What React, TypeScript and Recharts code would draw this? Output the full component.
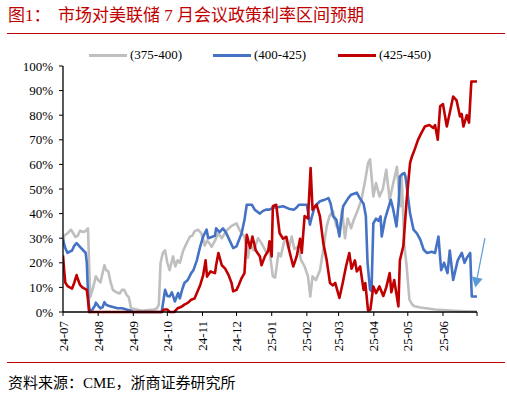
import React from 'react';
import { LineChart, Line, XAxis, YAxis, ReferenceLine } from 'recharts';

// Days since 2024-07-01 -> probability (%)
const SERIES_375_400: [number, number][] = [
  [0,27],[1,31],[4,32],[7,33.5],[9,32],[11,30.5],[13,31],[15,33],[18,32.5],[20,33],[22,34],[23,20],[24,6],[26,9],[29,14.5],[31,13],[33,12],[35,16],[36.5,19],[38,17],[40,16.5],[42,12],[44,9],[47,8],[50,7.5],[52,9],[54,9],[56,7],[58,6],[60,1.5],[65,1],[70,0.5],[75,0.8],[80,1],[83,1.5],[84.5,3],[86,20],[88,24],[90,25],[92,20],[94,17],[97,22.6],[99,18.5],[101,21],[103,20],[106,25],[109,28],[112,30.7],[114,31],[116,32.8],[119,33.5],[122,32],[125,27],[127,29],[129,28],[131,26.5],[134,29],[137,32],[140,30],[144,33],[148.6,35],[153,36],[156,33],[160,30.7],[163,22],[165,28],[168,25],[172,30],[175,28],[179.5,24],[182,25],[185,14.5],[187,14],[190,24],[192,22.6],[196,30.7],[199,25.6],[201.6,30.7],[204,25.6],[207,26.5],[210,21],[213,18.5],[216,14.5],[218,6.3],[220,14.5],[223,13],[226.6,17],[229,24],[232.5,34.8],[235,39],[238,41],[241,35],[244,33],[246,41.6],[248.6,30],[251,38],[254,34],[256,37],[260,41.6],[263,45.5],[266,52.4],[269,60.6],[270.7,62],[273.6,47],[276,52.4],[279,47],[282,50],[285,57.8],[288,45.6],[291,52],[294.4,59],[296,50],[297.5,43],[298.6,55],[301,26.7],[303,18.5],[305.4,5],[308,3],[310,2.3],[315,1.8],[320,1.5],[328,1],[335,0.8],[345,0.5],[355,0.3],[365,0.2]
];

const SERIES_400_425: [number, number][] = [
  [0,29.4],[2,26],[4,24],[6,24.5],[8,25],[10,27],[12,28],[14,27],[16,26],[18,25],[20,24],[21,20],[22,8],[23,2],[24,0],[26,1],[28,2.5],[29,3.8],[31,2.5],[33,1.5],[35,2],[36.5,4],[38,3],[40,2.5],[44,2],[48,1.5],[52,1.5],[56,1],[60,0.5],[62,0],[87,0],[88,3],[90,9],[92,6.5],[94,6.3],[96,8],[98.6,4.3],[101.5,7.7],[103,5.5],[105,9],[107,11.8],[110,13],[113,15.8],[115,17],[118,21],[121,26.7],[123.6,30.7],[126.6,33.5],[128,30],[131,30.5],[134,31],[135,34],[138,32.5],[141,34],[144,32],[147,29],[150,26],[153,26.7],[157.5,32],[160,37.5],[162,43.6],[166.5,43.6],[169,41.6],[173.6,40],[176,41],[179,41.6],[182,41.6],[186,42.5],[188,42.5],[194,43],[199,42],[203.5,41.6],[206,42.5],[208,43.6],[212,43.6],[215,43.6],[217.7,35.5],[219,38],[222,43],[226.6,45],[230,45.5],[234,46.3],[236,44],[238,39],[241,37.5],[243.7,30.7],[245,36],[247,43],[251.5,46.3],[254,47.7],[259,48.5],[262,46],[265,44],[267,39],[268.5,20],[270.7,9],[272,8.5],[273.6,36],[276,38],[278,37],[280,38.9],[281,30.7],[284,38],[289,45.6],[291,42],[294,34.8],[296,45],[297,55],[299,56],[301,56.5],[302,55],[304.5,45.6],[306,40],[309,33.5],[312,32],[315,29.4],[318,25.3],[321,24],[325,24.5],[328,24],[331,30.7],[333.4,17],[336,20],[339,15.8],[341,25],[344,13],[348,21],[351.6,24],[354,20],[356,22],[359,24],[360.4,6.3],[365,6.3]
];

const SERIES_425_450: [number, number][] = [
  [0,23],[1,17],[2,12],[4,10.5],[6,10],[8,9.5],[10,12],[12,15],[13,13.5],[15,11],[17,10],[19,9.5],[21,9],[22,5],[23,0],[87,0],[89,1],[92,1],[94,0],[98,0],[101,1.5],[104,2],[107,3],[110,3.7],[113,5],[116,5.5],[118,7.7],[121,11],[123.6,15],[125.7,21],[127,14.4],[130,16.5],[134,15.8],[135,19],[137,24],[140,19],[143,17.6],[146,15],[148.6,11.8],[150,8.4],[153,9],[155,11],[157.5,13.8],[160,15.8],[162,31.4],[165,26],[167,30.7],[170,25],[173.6,22.6],[175,19],[178,22.6],[181,25],[182,28.7],[184,22.6],[185,43],[188,43.6],[191,32],[194,29.8],[197,30.5],[198.5,27],[200,24],[203,18.5],[206,22.6],[209,29.8],[210.5,24],[213,39],[216,38],[218.3,58.5],[220,41.6],[223.6,43.6],[226.5,39],[229.5,28],[232.5,21],[235.4,11.8],[238,10.8],[240,11.8],[243.7,5.7],[246.6,11.8],[249.5,18.5],[252.4,24],[254.4,17.6],[257.4,21],[259,16.5],[262,18.5],[265,9],[266.5,11.8],[269,0.5],[271,1],[273.6,10.4],[276,7.7],[279,10.4],[282.4,6.5],[285,10],[288,15.8],[289.5,8],[292,13],[295.7,2.3],[297,21],[300,26.7],[303,45.6],[306,60.6],[307.5,63],[310,66],[313,70],[316,72.8],[319,75.4],[323,76],[326.5,74.8],[328,76],[330.4,70],[332.5,83.6],[335,84.5],[338.4,75.4],[341,81],[344,87.6],[347,86],[350,79.5],[351.5,80.5],[353,75.4],[356,80],[358,77],[360,93.7],[365,93.7]
];

const MONTH_TICKS = [0, 31, 62, 92, 123, 153, 184, 215, 243, 274, 304, 335, 365];
const MONTH_LABELS = ['24-07','24-08','24-09','24-10','24-11','24-12','25-01','25-02','25-03','25-04','25-05','25-06',''];
const Y_TICKS = [0,10,20,30,40,50,60,70,80,90,100];

const SERIES_NAMES = ['(375-400)', '(400-425)', '(425-450)'];
const COLORS = ['#BFBFBF', '#4472C4', '#C00000'];

const ARROW_FROM = { x: 372, y: 30 };
const ARROW_TO = { x: 363.5, y: 10 };

const toRows = (s: [number, number][]) => s.map(([d, v]) => ({ d, v }));

const SERIF = "'Liberation Serif', 'Times New Roman', 'Noto Sans CJK SC', serif";
const TITLE_RED = '#C00000';

const XTick = (props: any) => {
  const { x, y, payload } = props;
  const idx = MONTH_TICKS.indexOf(payload.value);
  const label = idx >= 0 ? MONTH_LABELS[idx] : '';
  return (
    <g transform={`translate(${x},${y})`}>
      <text transform="rotate(-90)" textAnchor="end" dy="0.35em" fontSize={13} fontFamily={SERIF} fill="#000">
        {label}
      </text>
    </g>
  );
};

const ArrowShape = (props: any) => {
  const { x1, y1, x2, y2 } = props;
  if ([x1, y1, x2, y2].some((v) => v == null || isNaN(v))) return null;
  const dx = x2 - x1, dy = y2 - y1;
  const len = Math.sqrt(dx * dx + dy * dy);
  const ux = dx / len, uy = dy / len;
  const headLen = 10, headW = 5.5;
  const bx = x2 - ux * headLen, by = y2 - uy * headLen;
  const px = -uy, py = ux;
  return (
    <g>
      <line x1={x1} y1={y1} x2={bx} y2={by} stroke="#5B9BD5" strokeWidth={1.2} />
      <polygon
        points={`${x2},${y2} ${bx + px * headW},${by + py * headW} ${bx - px * headW},${by - py * headW}`}
        fill="#5B9BD5"
      />
    </g>
  );
};

export default function App() {
  return (
    <div style={{ position: 'absolute', left: 0, top: 0, width: 507, height: 399, background: '#fff', overflow: 'hidden' }}>
      <div style={{ position: 'absolute', left: 8, top: 5, fontSize: 17, color: TITLE_RED, fontFamily: SERIF, lineHeight: '22px', whiteSpace: 'nowrap' }}>
        图1：
      </div>
      <div style={{ position: 'absolute', left: 58, top: 5, fontSize: 17, color: TITLE_RED, fontFamily: SERIF, lineHeight: '22px', whiteSpace: 'nowrap' }}>
        市场对美联储 7 月会议政策利率区间预期
      </div>
      <div style={{ position: 'absolute', left: 7, top: 33, width: 498, height: 1, background: TITLE_RED }} />

      {SERIES_NAMES.map((n, i) => {
        const left = [89, 213, 338][i];
        return (
          <div key={n} style={{ position: 'absolute', left, top: 46, height: 18, display: 'flex', alignItems: 'center', whiteSpace: 'nowrap' }}>
            <div style={{ width: 38, height: 3, background: COLORS[i], marginRight: 3 }} />
            <span style={{ fontFamily: SERIF, fontSize: 13, color: '#000' }}>{n}</span>
          </div>
        );
      })}

      <div style={{ position: 'absolute', left: 0, top: 0 }}>
        <LineChart width={507} height={399} margin={{ top: 66, right: 30, bottom: 0, left: 0 }}>
          <XAxis
            type="number"
            dataKey="d"
            domain={[0, 365]}
            ticks={MONTH_TICKS}
            allowDataOverflow
            tick={<XTick />}
            tickSize={4}
            tickMargin={5}
            height={87}
            stroke="#000"
            axisLine={{ stroke: '#000', strokeWidth: 1.3 }}
            tickLine={{ stroke: '#000' }}
            interval={0}
          />
          <YAxis
            type="number"
            domain={[0, 100]}
            ticks={Y_TICKS}
            tickFormatter={(v: number) => `${v}%`}
            width={63}
            tickSize={4}
            tickMargin={6}
            axisLine={{ stroke: '#000', strokeWidth: 1.3 }}
            tickLine={{ stroke: '#000' }}
            tick={{ fontSize: 13, fontFamily: SERIF, fill: '#000' }}
            interval={0}
          />
          {[SERIES_375_400, SERIES_400_425, SERIES_425_450].map((s, i) => (
            <Line
              key={SERIES_NAMES[i]}
              data={toRows(s)}
              dataKey="v"
              type="linear"
              stroke={COLORS[i]}
              strokeWidth={2.6}
              dot={false}
              activeDot={false}
              isAnimationActive={false}
              strokeLinejoin="round"
            />
          ))}
          <ReferenceLine
            segment={[ARROW_FROM, ARROW_TO]}
            ifOverflow="visible"
            shape={<ArrowShape />}
          />
        </LineChart>
      </div>

      <div style={{ position: 'absolute', left: 7, top: 362, width: 498, height: 1, background: TITLE_RED }} />
      <div style={{ position: 'absolute', left: 8, top: 373, fontSize: 15, color: '#000', fontFamily: SERIF, lineHeight: '20px', whiteSpace: 'nowrap' }}>
        资料来源：CME，浙商证券研究所
      </div>
    </div>
  );
}
